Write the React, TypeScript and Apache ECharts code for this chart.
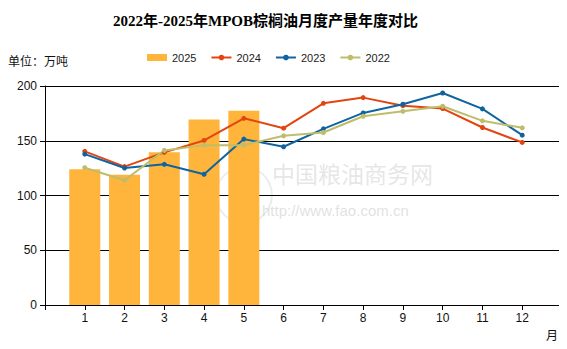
import React, { useEffect, useRef } from "react";
import * as echarts from "echarts";

const months = ["1", "2", "3", "4", "5", "6", "7", "8", "9", "10", "11", "12"];
const yTicks = [0, 50, 100, 150, 200];
const s2025 = [124, 119, 139.6, 169.4, 177.5];
const s2024 = [140.3, 126.4, 139.4, 150.3, 170.5, 161.5, 184.2, 189.4, 182, 179.4, 162.1, 148.5];
const s2023 = [137.8, 125.1, 128.5, 119.4, 151.5, 144.5, 160.9, 175.4, 183.3, 193.6, 179.1, 155.1];
const s2022 = [125.4, 113.9, 141.2, 146, 146, 154.5, 157.5, 172.4, 176.9, 181.5, 168.2, 161.8];

const pad = (arr: number[]) => {
  const out: (number | null)[] = [null, ...arr];
  while (out.length < months.length + 2) out.push(null);
  return out;
};

export default function App() {
  const ref = useRef<HTMLDivElement>(null);
  useEffect(() => {
    if (!ref.current) return;
    const chart = echarts.init(ref.current, null, { renderer: "svg" });
    const font = "'DejaVu Sans', 'Noto Sans CJK SC', sans-serif";
    const lfont = "'Liberation Sans', 'Noto Sans CJK SC', sans-serif";
    const lineSeries = (name: string, data: number[], color: string) => ({
      name,
      type: "line",
      data: pad(data),
      symbol: "circle",
      symbolSize: 5,
      showSymbol: true,
      itemStyle: { color },
      lineStyle: { color, width: 2 },
      z: 3,
    });
    chart.setOption({
      animation: false,
      backgroundColor: "#fff",
      textStyle: { fontFamily: lfont },
      title: {
        text: "2022年-2025年MPOB棕榈油月度产量年度对比",
        left: 108,
        top: 8,
        textStyle: {
          fontFamily: "'Liberation Serif', 'Noto Sans CJK SC', serif",
          fontSize: 15,
          fontWeight: "bold",
          color: "#000",
        },
      },
      legend: {
        left: 142,
        top: 47,
        itemWidth: 20,
        itemHeight: 7,
        itemGap: 14,
        textStyle: { fontSize: 11, color: "#222", fontFamily: lfont },
        data: [
          { name: "2025", icon: "rect" },
          { name: "2024" },
          { name: "2023" },
          { name: "2022" },
        ],
      },
      grid: { left: 45, right: 5, top: 86, bottom: 44 },
      xAxis: {
        type: "category",
        boundaryGap: false,
        data: ["", ...months, ""],
        axisLine: { lineStyle: { color: "#000", width: 1 } },
        axisTick: { show: true, length: 5, alignWithLabel: true, lineStyle: { color: "#000" } },
        axisLabel: { color: "#111", fontSize: 12, margin: 7, fontFamily: lfont },
        splitLine: { show: false },
      },
      yAxis: {
        type: "value",
        min: yTicks[0],
        max: yTicks[yTicks.length - 1],
        interval: 50,
        axisLine: { show: true, lineStyle: { color: "#000", width: 1 } },
        axisTick: { show: true, length: 5, lineStyle: { color: "#000" } },
        axisLabel: { color: "#111", fontSize: 12, margin: 8, fontFamily: lfont },
        splitLine: { show: true, lineStyle: { color: "#000", width: 1 } },
      },
      graphic: [
        {
          type: "text",
          left: 8,
          top: 56,
          style: { text: "单位：万吨", fontSize: 12, fill: "#111", fontFamily: font },
        },
        {
          type: "text",
          left: 546,
          top: 330,
          style: { text: "月", fontSize: 12, fill: "#111", fontFamily: font },
        },
        {
          type: "text",
          left: 272,
          top: 163,
          z: 0,
          style: {
            text: "中国粮油商务网",
            fontSize: 23,
            fill: "rgba(200,200,200,0.45)",
            fontFamily: font,
          },
        },
        {
          type: "circle",
          shape: { cx: 244, cy: 195, r: 28 },
          z: 0,
          style: { fill: "none", stroke: "rgba(200,200,200,0.35)", lineWidth: 2 },
        },
        {
          type: "text",
          left: 262,
          top: 203,
          z: 0,
          style: {
            text: "http://www.fao.com.cn",
            fontSize: 15,
            fill: "rgba(200,200,200,0.55)",
            fontFamily: lfont,
          },
        },
      ],
      series: [
        {
          name: "2025",
          type: "bar",
          data: pad(s2025),
          barWidth: 31,
          itemStyle: { color: "#FFB53C" },
          z: 2,
        },
        lineSeries("2024", s2024, "#E2450F"),
        lineSeries("2023", s2023, "#0F64A0"),
        lineSeries("2022", s2022, "#BFBD6B"),
      ],
    });
    return () => chart.dispose();
  }, []);
  return <div ref={ref} style={{ width: 567, height: 349, margin: -8 }} />;
}
